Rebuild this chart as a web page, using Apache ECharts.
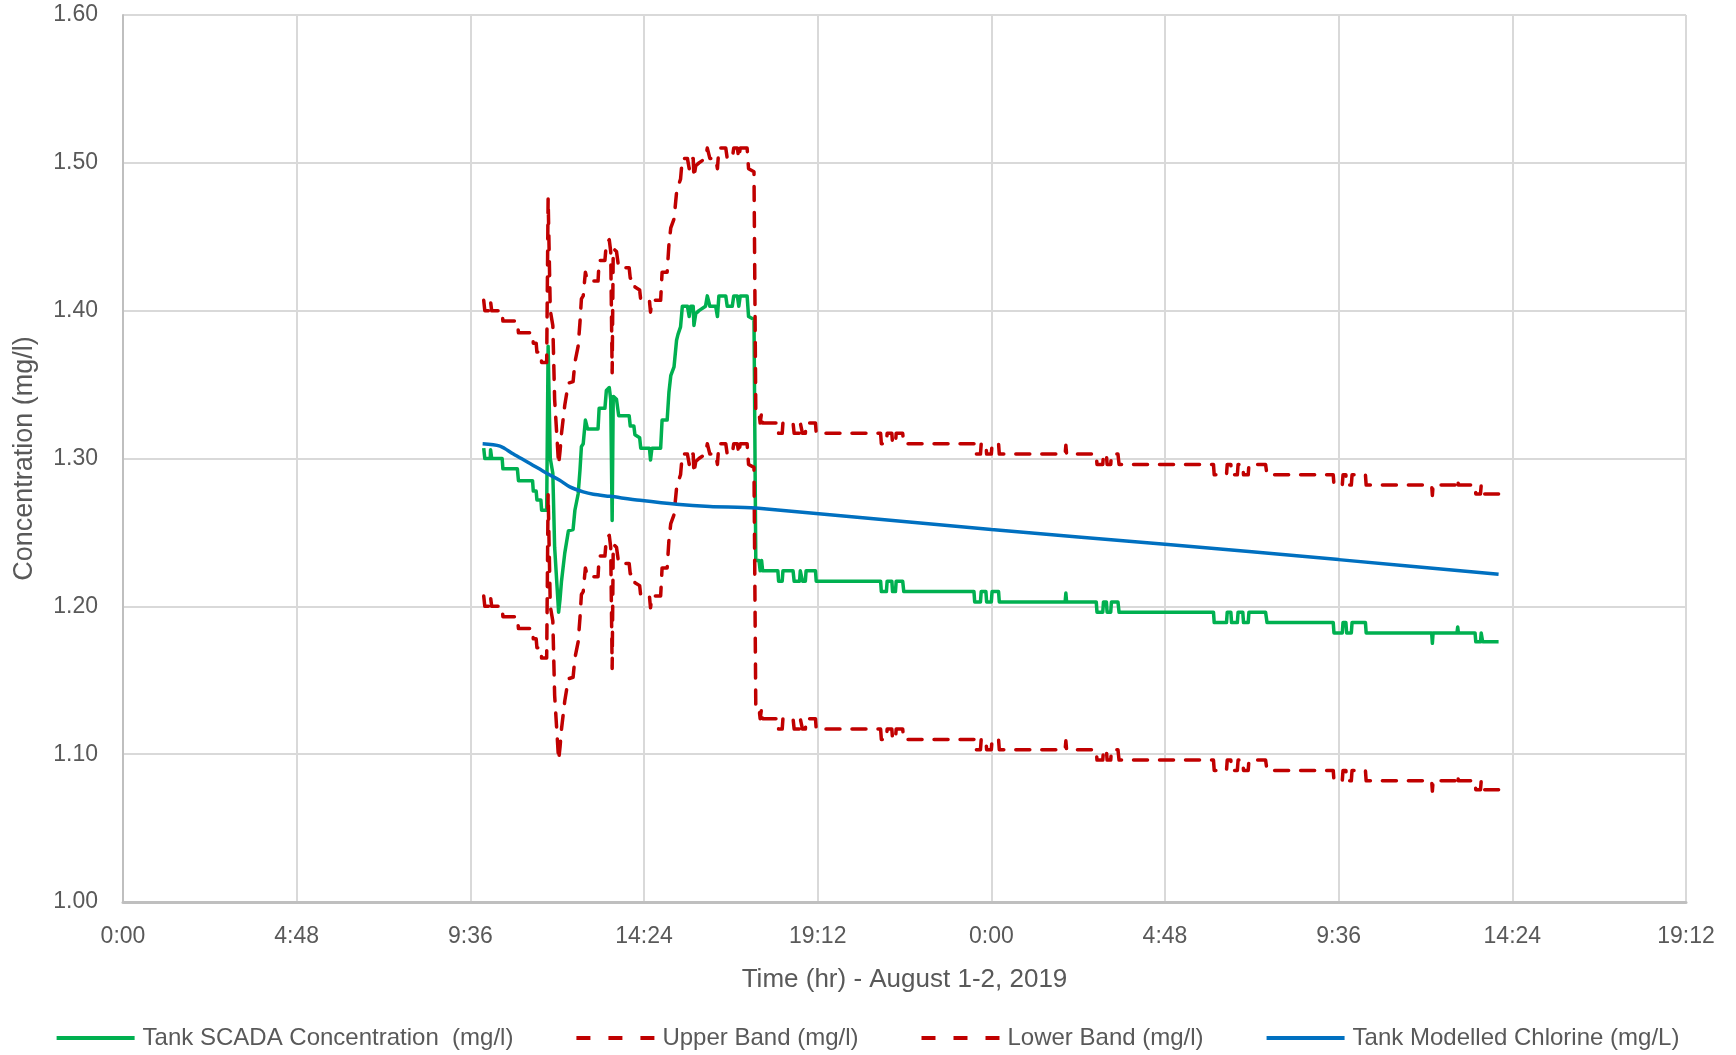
<!DOCTYPE html>
<html>
<head>
<meta charset="utf-8">
<script src="https://cdn.jsdelivr.net/npm/echarts@6/dist/echarts.min.js"></script>
<style>
html,body{margin:0;padding:0;background:#fff;}
#chart{width:1736px;height:1055px;}
</style>
</head>
<body>
<div id="chart"></div>
<script>
// ---- DATA (hours since 0:00 Aug 1, concentration mg/l) ----
const xTicksHours = [0, 4.8, 9.6, 14.4, 19.2, 24, 28.8, 33.6, 38.4, 43.2];
const yTicks = [1.00, 1.10, 1.20, 1.30, 1.40, 1.50, 1.60];

const scadaPoints = [
[9.97,1.307],[10.00,1.300],[10.15,1.300],[10.16,1.306],[10.19,1.300],[10.48,1.300],[10.50,1.293],[10.90,1.293],[10.93,1.285],[11.32,1.285],
[11.34,1.278],[11.42,1.278],[11.44,1.272],[11.55,1.272],[11.57,1.265],[11.71,1.265],[11.75,1.376],[11.78,1.376],[11.81,1.300],[11.88,1.290],
[11.93,1.240],[12.04,1.196],[12.08,1.205],[12.12,1.217],[12.21,1.236],[12.31,1.251],[12.44,1.252],[12.49,1.265],[12.58,1.276],[12.63,1.292],
[12.67,1.308],[12.72,1.310],[12.78,1.326],[12.81,1.326],[12.84,1.320],[13.13,1.320],[13.16,1.334],[13.32,1.334],[13.36,1.346],[13.44,1.348],
[13.48,1.340],[13.52,1.258],[13.55,1.342],[13.64,1.340],[13.70,1.329],[13.99,1.329],[14.02,1.322],[14.12,1.322],[14.15,1.316],[14.28,1.314],
[14.31,1.307],[14.55,1.307],[14.58,1.299],[14.62,1.307],[14.86,1.307],[14.90,1.326],[15.04,1.326],[15.09,1.345],[15.14,1.356],[15.23,1.362],
[15.30,1.380],[15.34,1.384],[15.41,1.389],[15.46,1.403],[15.60,1.403],[15.65,1.396],[15.69,1.403],[15.76,1.403],[15.78,1.390],[15.83,1.398],
[15.92,1.400],[16.10,1.403],[16.15,1.410],[16.22,1.403],[16.38,1.403],[16.43,1.396],[16.47,1.410],[16.66,1.410],[16.70,1.403],[16.84,1.403],
[16.88,1.410],[16.98,1.410],[17.02,1.403],[17.06,1.410],[17.25,1.410],[17.29,1.396],[17.44,1.394],[17.49,1.231],[17.58,1.231],[17.61,1.224],
[17.65,1.231],[17.68,1.224],[18.10,1.224],[18.12,1.217],[18.22,1.217],[18.24,1.224],[18.52,1.224],[18.55,1.217],[18.70,1.217],[18.72,1.224],
[18.76,1.224],[18.78,1.217],[18.86,1.217],[18.88,1.224],[19.14,1.224],[19.16,1.217],[20.94,1.217],[20.96,1.210],[21.10,1.210],[21.12,1.217],
[21.25,1.217],[21.27,1.210],[21.35,1.210],[21.37,1.217],[21.55,1.217],[21.58,1.210],[23.52,1.210],[23.54,1.203],[23.70,1.203],[23.72,1.210],
[23.85,1.210],[23.87,1.203],[24.00,1.203],[24.02,1.210],[24.20,1.210],[24.22,1.203],[26.04,1.203],[26.06,1.209],[26.08,1.203],[26.90,1.203],
[26.92,1.196],[27.08,1.196],[27.10,1.203],[27.18,1.203],[27.20,1.196],[27.30,1.196],[27.32,1.203],[27.50,1.203],[27.53,1.196],[30.14,1.196],
[30.16,1.189],[30.50,1.189],[30.52,1.196],[30.62,1.196],[30.64,1.189],[30.80,1.189],[30.82,1.196],[30.95,1.196],[30.97,1.189],[31.10,1.189],
[31.12,1.196],[31.58,1.196],[31.62,1.189],[33.45,1.189],[33.47,1.182],[33.70,1.182],[33.72,1.189],[33.80,1.189],[33.82,1.182],[33.95,1.182],
[33.97,1.189],[34.34,1.189],[34.36,1.182],[36.17,1.182],[36.19,1.175],[36.21,1.182],[36.87,1.182],[36.89,1.186],[36.91,1.182],[37.37,1.182],
[37.39,1.176],[37.52,1.176],[37.54,1.182],[37.58,1.176],[38.02,1.176]
];

const upperBandPoints = [
[9.97,1.407],[10.00,1.400],[10.15,1.400],[10.16,1.406],[10.19,1.400],[10.48,1.400],[10.50,1.393],[10.90,1.393],[10.93,1.385],[11.32,1.385],
[11.34,1.378],[11.42,1.378],[11.44,1.372],[11.55,1.372],[11.57,1.365],[11.71,1.365],[11.75,1.476],[11.78,1.476],[11.81,1.400],[11.88,1.390],
[11.93,1.340],[12.04,1.296],[12.08,1.305],[12.12,1.317],[12.21,1.336],[12.31,1.351],[12.44,1.352],[12.49,1.365],[12.58,1.376],[12.63,1.392],
[12.67,1.408],[12.72,1.410],[12.78,1.426],[12.81,1.426],[12.84,1.420],[13.13,1.420],[13.16,1.434],[13.32,1.434],[13.36,1.446],[13.44,1.448],
[13.48,1.440],[13.52,1.358],[13.55,1.442],[13.64,1.440],[13.70,1.429],[13.99,1.429],[14.02,1.422],[14.12,1.422],[14.15,1.416],[14.28,1.414],
[14.31,1.407],[14.55,1.407],[14.58,1.399],[14.62,1.407],[14.86,1.407],[14.90,1.426],[15.04,1.426],[15.09,1.445],[15.14,1.456],[15.23,1.462],
[15.30,1.480],[15.34,1.484],[15.41,1.489],[15.46,1.503],[15.60,1.503],[15.65,1.496],[15.69,1.503],[15.76,1.503],[15.78,1.490],[15.83,1.498],
[15.92,1.500],[16.10,1.503],[16.15,1.510],[16.22,1.503],[16.38,1.503],[16.43,1.496],[16.47,1.510],[16.66,1.510],[16.70,1.503],[16.84,1.503],
[16.88,1.510],[16.98,1.510],[17.02,1.503],[17.06,1.510],[17.25,1.510],[17.29,1.496],[17.44,1.494],[17.49,1.331],[17.58,1.331],[17.61,1.324],
[17.65,1.331],[17.68,1.324],[18.10,1.324],[18.12,1.317],[18.22,1.317],[18.24,1.324],[18.52,1.324],[18.55,1.317],[18.70,1.317],[18.72,1.324],
[18.76,1.324],[18.78,1.317],[18.86,1.317],[18.88,1.324],[19.14,1.324],[19.16,1.317],[20.94,1.317],[20.96,1.310],[21.10,1.310],[21.12,1.317],
[21.25,1.317],[21.27,1.310],[21.35,1.310],[21.37,1.317],[21.55,1.317],[21.58,1.310],[23.52,1.310],[23.54,1.303],[23.70,1.303],[23.72,1.310],
[23.85,1.310],[23.87,1.303],[24.00,1.303],[24.02,1.310],[24.20,1.310],[24.22,1.303],[26.04,1.303],[26.06,1.309],[26.08,1.303],[26.90,1.303],
[26.92,1.296],[27.08,1.296],[27.10,1.303],[27.18,1.303],[27.20,1.296],[27.30,1.296],[27.32,1.303],[27.50,1.303],[27.53,1.296],[30.14,1.296],
[30.16,1.289],[30.50,1.289],[30.52,1.296],[30.62,1.296],[30.64,1.289],[30.80,1.289],[30.82,1.296],[30.95,1.296],[30.97,1.289],[31.10,1.289],
[31.12,1.296],[31.58,1.296],[31.62,1.289],[33.45,1.289],[33.47,1.282],[33.70,1.282],[33.72,1.289],[33.80,1.289],[33.82,1.282],[33.95,1.282],
[33.97,1.289],[34.34,1.289],[34.36,1.282],[36.17,1.282],[36.19,1.275],[36.21,1.282],[36.87,1.282],[36.89,1.286],[36.91,1.282],[37.37,1.282],
[37.39,1.276],[37.52,1.276],[37.54,1.282],[37.58,1.276],[38.02,1.276]
];

const lowerBandPoints = [
[9.97,1.207],[10.00,1.200],[10.15,1.200],[10.16,1.206],[10.19,1.200],[10.48,1.200],[10.50,1.193],[10.90,1.193],[10.93,1.185],[11.32,1.185],
[11.34,1.178],[11.42,1.178],[11.44,1.172],[11.55,1.172],[11.57,1.165],[11.71,1.165],[11.75,1.276],[11.78,1.276],[11.81,1.200],[11.88,1.190],
[11.93,1.140],[12.04,1.096],[12.08,1.105],[12.12,1.117],[12.21,1.136],[12.31,1.151],[12.44,1.152],[12.49,1.165],[12.58,1.176],[12.63,1.192],
[12.67,1.208],[12.72,1.210],[12.78,1.226],[12.81,1.226],[12.84,1.220],[13.13,1.220],[13.16,1.234],[13.32,1.234],[13.36,1.246],[13.44,1.248],
[13.48,1.240],[13.52,1.158],[13.55,1.242],[13.64,1.240],[13.70,1.229],[13.99,1.229],[14.02,1.222],[14.12,1.222],[14.15,1.216],[14.28,1.214],
[14.31,1.207],[14.55,1.207],[14.58,1.199],[14.62,1.207],[14.86,1.207],[14.90,1.226],[15.04,1.226],[15.09,1.245],[15.14,1.256],[15.23,1.262],
[15.30,1.280],[15.34,1.284],[15.41,1.289],[15.46,1.303],[15.60,1.303],[15.65,1.296],[15.69,1.303],[15.76,1.303],[15.78,1.290],[15.83,1.298],
[15.92,1.300],[16.10,1.303],[16.15,1.310],[16.22,1.303],[16.38,1.303],[16.43,1.296],[16.47,1.310],[16.66,1.310],[16.70,1.303],[16.84,1.303],
[16.88,1.310],[16.98,1.310],[17.02,1.303],[17.06,1.310],[17.25,1.310],[17.29,1.296],[17.44,1.294],[17.49,1.131],[17.58,1.131],[17.61,1.124],
[17.65,1.131],[17.68,1.124],[18.10,1.124],[18.12,1.117],[18.22,1.117],[18.24,1.124],[18.52,1.124],[18.55,1.117],[18.70,1.117],[18.72,1.124],
[18.76,1.124],[18.78,1.117],[18.86,1.117],[18.88,1.124],[19.14,1.124],[19.16,1.117],[20.94,1.117],[20.96,1.110],[21.10,1.110],[21.12,1.117],
[21.25,1.117],[21.27,1.110],[21.35,1.110],[21.37,1.117],[21.55,1.117],[21.58,1.110],[23.52,1.110],[23.54,1.103],[23.70,1.103],[23.72,1.110],
[23.85,1.110],[23.87,1.103],[24.00,1.103],[24.02,1.110],[24.20,1.110],[24.22,1.103],[26.04,1.103],[26.06,1.109],[26.08,1.103],[26.90,1.103],
[26.92,1.096],[27.08,1.096],[27.10,1.103],[27.18,1.103],[27.20,1.096],[27.30,1.096],[27.32,1.103],[27.50,1.103],[27.53,1.096],[30.14,1.096],
[30.16,1.089],[30.50,1.089],[30.52,1.096],[30.62,1.096],[30.64,1.089],[30.80,1.089],[30.82,1.096],[30.95,1.096],[30.97,1.089],[31.10,1.089],
[31.12,1.096],[31.58,1.096],[31.62,1.089],[33.45,1.089],[33.47,1.082],[33.70,1.082],[33.72,1.089],[33.80,1.089],[33.82,1.082],[33.95,1.082],
[33.97,1.089],[34.34,1.089],[34.36,1.082],[36.17,1.082],[36.19,1.075],[36.21,1.082],[36.87,1.082],[36.89,1.086],[36.91,1.082],[37.37,1.082],
[37.39,1.076],[37.52,1.076],[37.54,1.082],[37.58,1.076],[38.02,1.076]
];

const modelPoints = [
[9.94,1.3100],[10.42,1.3084],[10.79,1.3030],[11.25,1.2966],[11.71,1.2900],[12.07,1.2853],[12.35,1.2808],[12.72,1.2774],
[13.00,1.2758],[13.46,1.2744],[14.29,1.2717],[15.30,1.2690],[16.22,1.2675],[17.49,1.2665],[24.00,1.2519],[28.80,1.2420],
[33.60,1.2316],[38.02,1.2217]
];

const seriesNames = ['Tank SCADA Concentration  (mg/l)', 'Upper Band (mg/l)', 'Lower Band (mg/l)', 'Tank Modelled Chlorine (mg/L)'];
const seriesColors = ['#00B050', '#C00000', '#C00000', '#0070C0'];
const xAxisTitle = 'Time (hr) - August 1-2, 2019';
const yAxisTitle = 'Concentration (mg/l)';

// ---- CHART ----
const FONT = 'Liberation Sans, Arial, sans-serif';
const TXT = '#595959';
const chart = echarts.init(document.getElementById('chart'), null, {renderer: 'canvas'});

function fmtTime(v) {
  const m = Math.round(v * 60);
  const h = Math.floor(m / 60) % 24;
  const mm = m % 60;
  return h + ':' + (mm < 10 ? '0' + mm : mm);
}

const dash = [14, 12];
const solidIcon = 'path://M0,0H78V4H0Z';
const dashIcon = 'path://M0,0H14V4H0Z M32,0H46V4H32Z M64,0H78V4H64Z';

chart.setOption({
  animation: false,
  backgroundColor: '#ffffff',
  grid: {left: 123, right: 50, top: 15, bottom: 153, containLabel: false},
  xAxis: {
    type: 'value',
    min: xTicksHours[0],
    max: xTicksHours[xTicksHours.length - 1],
    interval: xTicksHours[1] - xTicksHours[0],
    name: xAxisTitle,
    nameLocation: 'middle',
    nameGap: 65,
    nameTextStyle: {fontFamily: FONT, fontSize: 26, color: TXT},
    axisLine: {show: true, lineStyle: {color: '#bfbfbf', width: 3}},
    axisTick: {show: false},
    axisLabel: {formatter: fmtTime, fontFamily: FONT, fontSize: 23, color: TXT, margin: 23},
    splitLine: {show: true, lineStyle: {color: '#d9d9d9', width: 2}}
  },
  yAxis: {
    type: 'value',
    min: yTicks[0],
    max: yTicks[yTicks.length - 1],
    interval: 0.1,
    name: yAxisTitle,
    nameLocation: 'middle',
    nameGap: 85,
    nameRotate: 90,
    nameTextStyle: {fontFamily: FONT, fontSize: 27, color: TXT},
    axisLine: {show: true, lineStyle: {color: '#bfbfbf', width: 2}},
    axisTick: {show: false},
    axisLabel: {formatter: v => v.toFixed(2), fontFamily: FONT, fontSize: 23, color: TXT, margin: 25},
    splitLine: {show: true, lineStyle: {color: '#d9d9d9', width: 2}}
  },
  legend: {
    top: 1021,
    left: 'center',
    itemWidth: 78,
    itemHeight: 4,
    itemGap: 63,
    textStyle: {fontFamily: FONT, fontSize: 24, color: TXT, padding: [0, 0, 0, 3]},
    data: [
      {name: seriesNames[0], icon: solidIcon, itemStyle: {color: seriesColors[0]}},
      {name: seriesNames[1], icon: dashIcon, itemStyle: {color: seriesColors[1]}},
      {name: seriesNames[2], icon: dashIcon, itemStyle: {color: seriesColors[2]}},
      {name: seriesNames[3], icon: solidIcon, itemStyle: {color: seriesColors[3]}}
    ]
  },
  series: [
    {
      name: seriesNames[0], type: 'line', data: scadaPoints, showSymbol: false, symbol: 'none',
      lineStyle: {color: seriesColors[0], width: 3.5, join: 'round'}, itemStyle: {color: seriesColors[0]}, z: 2
    },
    {
      name: seriesNames[1], type: 'line', data: upperBandPoints, showSymbol: false, symbol: 'none',
      lineStyle: {color: seriesColors[1], width: 3.5, type: dash, cap: 'round', join: 'round'}, itemStyle: {color: seriesColors[1]}, z: 3
    },
    {
      name: seriesNames[2], type: 'line', data: lowerBandPoints, showSymbol: false, symbol: 'none',
      lineStyle: {color: seriesColors[2], width: 3.5, type: dash, cap: 'round', join: 'round'}, itemStyle: {color: seriesColors[2]}, z: 3
    },
    {
      name: seriesNames[3], type: 'line', data: modelPoints, showSymbol: false, symbol: 'none', smooth: 0.3,
      lineStyle: {color: seriesColors[3], width: 3.5}, itemStyle: {color: seriesColors[3]}, z: 4
    }
  ]
});
</script>
</body>
</html>
